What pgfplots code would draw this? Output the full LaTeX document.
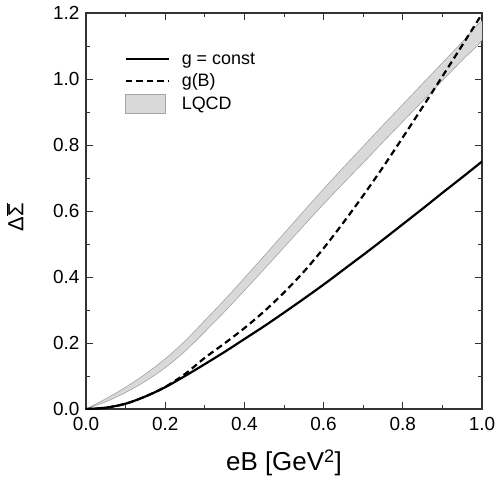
\documentclass[border=0pt]{standalone}
\usepackage{fontspec}
\setmainfont{Liberation Sans}
\usepackage{pgfplots}
\pgfplotsset{compat=1.18}

\definecolor{bandfill}{gray}{0.85}
\definecolor{bandedge}{gray}{0.64}
\definecolor{axisgray}{gray}{0.2}

\begin{document}
\begin{tikzpicture}
\begin{axis}[
    scale only axis,
    width=396bp, height=396bp,
    xmin=0, xmax=1, ymin=0, ymax=1.2,
    xtick={0,0.2,0.4,0.6,0.8,1.0},
    ytick={0,0.2,0.4,0.6,0.8,1.0,1.2},
    minor tick num=1,
    tick align=inside,
    major tick length=7bp, minor tick length=4bp,
    every tick/.style={axisgray, line width=0.8bp},
    axis line style={axisgray, line width=1.2bp},
    tick label style={font=\fontsize{19}{21}\selectfont,
        /pgf/number format/assume math mode=true,
        /pgf/number format/fixed,
        /pgf/number format/fixed zerofill,
        /pgf/number format/precision=1},
    xticklabel style={yshift=-5bp},
    yticklabel style={xshift=-3bp},
    xlabel={eB [GeV\textsuperscript{2}]},
    ylabel={Δ$\overline{\mbox{Σ}}$},
    xlabel style={font=\fontsize{26}{30}\selectfont,
        at={(axis description cs:0.5,-0.136)}, anchor=center},
    ylabel style={font=\fontsize{22}{26}\selectfont,
        at={(axis description cs:-0.18,0.485)}, anchor=center},
    legend style={draw=none, fill=none, inner sep=0pt,
        at={(axis description cs:0.097,0.905)}, anchor=north west,
        font=\fontsize{18}{20}\selectfont, row sep=4bp, column sep=10bp,
        cells={anchor=west}},
    legend image code/.code={\draw[#1] (0bp,0bp) -- (43bp,0bp);},
]
% LQCD band: upper edge forward, lower edge back
\addplot[draw=bandedge, line width=0.6bp, fill=bandfill, forget plot, smooth] coordinates {
    (0,0) (0.05,0.031) (0.1,0.066) (0.15,0.106) (0.2,0.152) (0.25,0.206)
    (0.3,0.268) (0.35,0.331) (0.4,0.397) (0.45,0.464) (0.5,0.532)
    (0.55,0.600) (0.6,0.667) (0.65,0.732) (0.7,0.796) (0.75,0.860)
    (0.8,0.923) (0.85,0.986) (0.9,1.049) (0.95,1.112) (1.0,1.175)
    (1.0,1.119) (0.95,1.057) (0.9,0.995) (0.85,0.933) (0.8,0.871)
    (0.75,0.809) (0.7,0.746) (0.65,0.684) (0.6,0.621) (0.55,0.556)
    (0.5,0.490) (0.45,0.424) (0.4,0.359) (0.35,0.295) (0.3,0.234)
    (0.25,0.175) (0.2,0.125) (0.15,0.084) (0.1,0.050) (0.05,0.022) (0,0)
} -- cycle;

\addplot[black, line width=2.2bp, smooth] coordinates {
    (0,0) (0.05,0.004) (0.1,0.016) (0.15,0.038) (0.2,0.066) (0.25,0.100)
    (0.3,0.136) (0.35,0.173) (0.4,0.212) (0.45,0.251) (0.5,0.292)
    (0.55,0.334) (0.6,0.377) (0.65,0.422) (0.7,0.467) (0.75,0.513)
    (0.8,0.560) (0.85,0.607) (0.9,0.655) (0.95,0.702) (1.0,0.750)
};
\addlegendentry{g = const}

\addplot[black, line width=2.2bp, dash pattern=on 6.5bp off 4bp, smooth] coordinates {
    (0,0) (0.05,0.004) (0.1,0.016) (0.15,0.038) (0.2,0.067) (0.25,0.106)
    (0.3,0.155) (0.35,0.199) (0.4,0.245) (0.45,0.296) (0.5,0.353)
    (0.55,0.416) (0.6,0.487) (0.65,0.565) (0.7,0.647) (0.75,0.733)
    (0.8,0.823) (0.85,0.915) (0.9,1.008) (0.95,1.102) (1.0,1.197)
};
\addlegendentry{g(B)}

\addlegendimage{legend image code/.code={\draw[fill=bandfill, draw=bandedge, line width=0.6bp] (0bp,-9.5bp) rectangle (40bp,9.5bp);}}
\addlegendentry{LQCD}
\end{axis}
\pgfresetboundingbox
\path (-86bp,-73bp) rectangle (412bp,409bp);
\end{tikzpicture}
\end{document}
